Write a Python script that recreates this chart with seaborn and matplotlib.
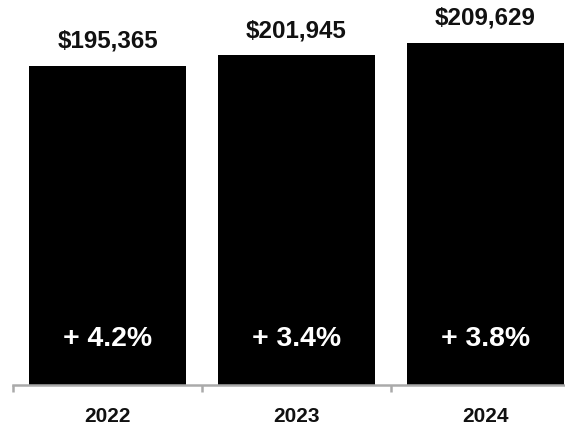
import matplotlib
matplotlib.use("Agg")
import matplotlib.pyplot as plt
import seaborn as sns
import pandas as pd
from matplotlib.ticker import FixedLocator

years = ["2022", "2023", "2024"]
revenue = [195365, 201945, 209629]
growth = [4.2, 3.4, 3.8]

sns.set_style("white")
plt.rcParams["font.family"] = ["Liberation Sans", "DejaVu Sans"]
plt.rcParams["font.weight"] = "bold"

df = pd.DataFrame({"year": years, "revenue": revenue})

W, H = 565, 427
dpi = 100
fig = plt.figure(figsize=(W / dpi, H / dpi), dpi=dpi)
# axes spans one category beyond the right edge so the last bar reaches the border
left_px, right_px, bottom_px, top_px = 13, 580, 386, 0
ax = fig.add_axes([left_px / W, (H - bottom_px) / H,
                   (right_px - left_px) / W, (bottom_px - top_px) / H])

sns.barplot(data=df, x="year", y="revenue", color="black", saturation=1,
            width=0.83, ax=ax, edgecolor="none")

ax.set_xlim(-0.5, 2.5)
ax.set_ylim(0, 236400)

for i, (v, g) in enumerate(zip(revenue, growth)):
    ax.annotate(f"${v:,}", xy=(i, v), xytext=(0, 18.5), textcoords="offset points",
                ha="center", va="center", fontsize=17.4, fontweight="bold",
                color="#111111")
    ax.annotate(f"+ {g:.1f}%", xy=(i, 0), xytext=(0, 34), textcoords="offset points",
                ha="center", va="center", fontsize=20.4, fontweight="bold",
                color="white")

for s in ["top", "right", "left"]:
    ax.spines[s].set_visible(False)
ax.spines["bottom"].set_color("#aaaaaa")
ax.spines["bottom"].set_linewidth(1.8)

ax.set_yticks([])
ax.set_xlabel("")
ax.set_ylabel("")
ax.set_xticks(range(len(years)))
ax.set_xticklabels(years, fontsize=15, fontweight="bold", color="#111111")
ax.tick_params(axis="x", which="major", length=0, pad=15)
ax.xaxis.set_minor_locator(FixedLocator([-0.5, 0.5, 1.5, 2.5]))
ax.tick_params(axis="x", which="minor", length=5, width=1.8, color="#aaaaaa",
               direction="out", bottom=True)

fig.savefig("out.png", dpi=dpi)
